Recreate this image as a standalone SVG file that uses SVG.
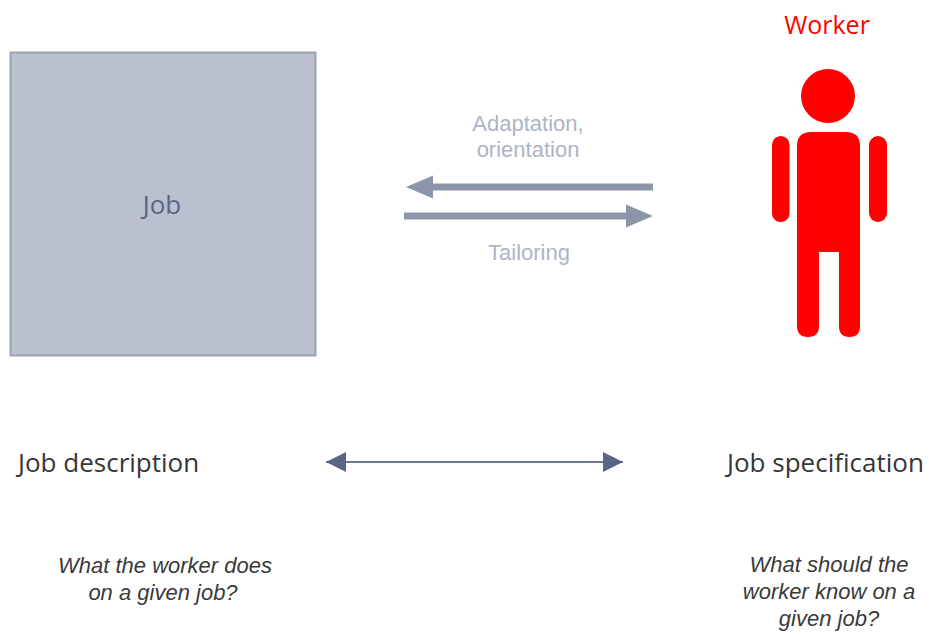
<svg xmlns="http://www.w3.org/2000/svg" width="930" height="636" viewBox="0 0 930 636">
<style>
.lbl{font-family:"Open Sans","Liberation Sans",sans-serif;}
.sl{font-family:"Liberation Sans","Open Sans",sans-serif;}
.light{fill:#adb4c4;font-size:22px;}
.dark{fill:#363636;font-size:26px;}
.ital{fill:#3a3a3a;font-size:22px;font-style:italic;}
.fig{fill:#ff0000;}
</style>
<defs>
<marker id="tri" viewBox="0 0 10 10" refX="10" refY="5" markerWidth="20" markerHeight="20" markerUnits="userSpaceOnUse" orient="auto-start-reverse">
<path d="M0,0 L10,5 L0,10 Z" fill="#5b6585"/>
</marker>
</defs>
<rect width="930" height="636" fill="#ffffff"/>
<g id="job">
<rect x="10.5" y="52.5" width="305" height="303" fill="#bac0cd" stroke="#9aa1b3" stroke-width="2"/>
<text class="lbl" x="162" y="214" text-anchor="middle" font-size="26" fill="#5b6585">Job</text>
</g>
<g id="worker">
<text class="lbl" x="827" y="34" text-anchor="middle" font-size="25" fill="#ff0000">Worker</text>
<circle class="fig" cx="828" cy="96" r="27"/>
<path class="fig" d="M797,146 Q797,132 811,132 L846,132 Q860,132 860,146 L860,326 Q860,337 849.5,337 Q839,337 839,326 L839,252 L819,252 L819,326 Q819,337 808,337 Q797,337 797,326 Z"/>
<rect class="fig" x="772" y="136" width="17.5" height="86" rx="8.75"/>
<rect class="fig" x="869" y="136" width="18" height="86" rx="9"/>
</g>
<g id="connectors">
<line x1="653" y1="187" x2="432" y2="187" stroke="#8c95aa" stroke-width="7"/>
<path d="M406,187 L433,175.5 L433,198.5 Z" fill="#8c95aa"/>
<line x1="404" y1="216" x2="627" y2="216" stroke="#8c95aa" stroke-width="7"/>
<path d="M653,216 L626,204.5 L626,227.5 Z" fill="#8c95aa"/>
<line x1="326" y1="462" x2="623" y2="462" stroke="#6f7890" stroke-width="2" marker-start="url(#tri)" marker-end="url(#tri)"/>
</g>
<g id="labels">
<text class="sl light" x="528" y="131" text-anchor="middle">Adaptation,</text>
<text class="sl light" x="528" y="157" text-anchor="middle">orientation</text>
<text class="sl light" x="529" y="260" text-anchor="middle">Tailoring</text>
</g>
<g id="job-description">
<text class="lbl dark" x="18" y="472">Job description</text>
<text class="sl ital" x="165" y="573" text-anchor="middle">What the worker does</text>
<text class="sl ital" x="163" y="600" text-anchor="middle">on a given job?</text>
</g>
<g id="job-specification">
<text class="lbl dark" x="727" y="472">Job specification</text>
<text class="sl ital" x="829" y="572" text-anchor="middle">What should the</text>
<text class="sl ital" x="829" y="599" text-anchor="middle">worker know on a</text>
<text class="sl ital" x="829" y="626" text-anchor="middle">given job?</text>
</g>
</svg>
